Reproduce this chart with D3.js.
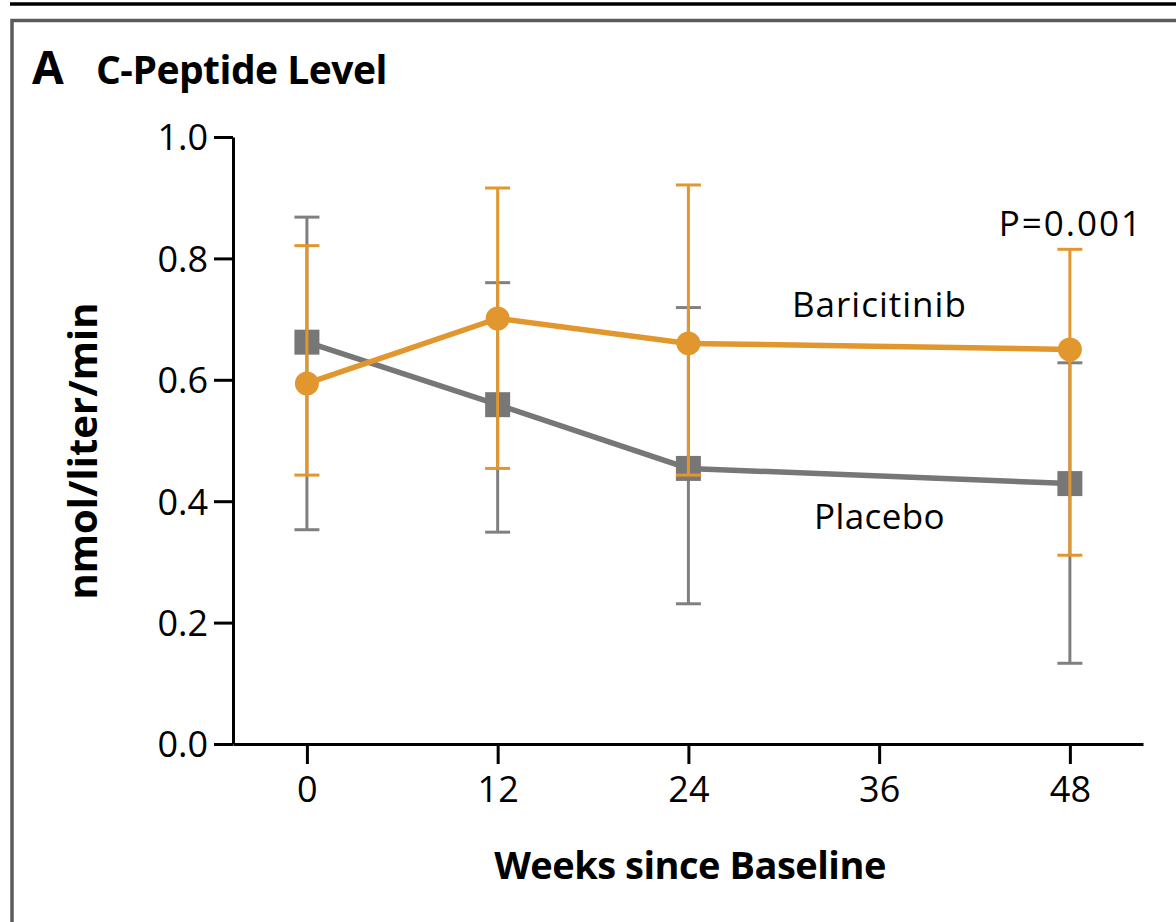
<!DOCTYPE html>
<html>
<head>
<meta charset="utf-8">
<script src="https://cdn.jsdelivr.net/npm/d3@7"></script>
<style>
  body { margin: 0; background: #fff; }
  svg { display: block; font-family: 'Open Sans', sans-serif; }
</style>
</head>
<body>
<svg id="chart" width="1176" height="922"></svg>
<script>
// weeks since baseline
let weeks = [0, 12, 24, 48]
let tickWeeks = [0, 12, 24, 36, 48]
let yTicks = [0, 0.2, 0.4, 0.6, 0.8, 1.0]

// c-peptide, nmol/liter/min
let baricitinib = [0.594, 0.701, 0.660, 0.650]
let baricitinibLow = [0.443, 0.454, 0.443, 0.311]
let baricitinibHigh = [0.821, 0.916, 0.921, 0.815]

let placebo = [0.662, 0.559, 0.454, 0.429]
let placeboLow = [0.353, 0.349, 0.231, 0.133]
let placeboHigh = [0.868, 0.760, 0.719, 0.628]

let orange = '#e2962e'
let gray = '#777777'
let grayBar = '#808080'

let svg = d3.select('#chart')

// frame
svg.append('line')
    .attr('x1', 10).attr('x2', 1176).attr('y1', 4).attr('y2', 4)
    .attr('stroke', '#000').attr('stroke-width', 3.5)
svg.append('rect')
    .attr('x', 12).attr('y', 20.5).attr('width', 1200).attr('height', 960)
    .attr('fill', 'none').attr('stroke', '#5b5b5b').attr('stroke-width', 3.5)

// title
svg.append('text').attr('x', 32).attr('y', 84)
    .style('font-weight', 700).style('font-size', '46px').text('A')
svg.append('text').attr('x', 96).attr('y', 84)
    .style('font-weight', 700).style('font-size', '39px').style('letter-spacing', '-0.5px')
    .text('C-Peptide Level')

let x = d3.scaleLinear().domain([-4.65, 52.6]).range([233, 1143])
let y = d3.scaleLinear().domain([0, 1]).range([744, 137])

// axes
let xAxis = svg.append('g')
    .attr('transform', 'translate(0,' + y(0) + ')')
    .call(d3.axisBottom(x).tickValues(tickWeeks).tickSize(20).tickSizeOuter(0).tickPadding(12))
let yAxis = svg.append('g')
    .attr('transform', 'translate(' + x(-4.65) + ',0)')
    .call(d3.axisLeft(y).tickValues(yTicks).tickFormat(d3.format('.1f')).tickSize(19).tickSizeOuter(0).tickPadding(6))

svg.selectAll('.domain, .tick line').attr('stroke', '#000').attr('stroke-width', 3)
xAxis.selectAll('text').style('font-size', '36px').style('font-family', 'Open Sans').attr('fill', '#000')
yAxis.selectAll('text').style('font-size', '36px').style('font-family', 'Open Sans').attr('fill', '#000')
    .attr('dy', '0.36em')

// axis titles
svg.append('text')
    .attr('transform', 'translate(97,451) rotate(-90)')
    .attr('text-anchor', 'middle')
    .style('font-weight', 700).style('font-size', '40px')
    .text('nmol/liter/min')
svg.append('text')
    .attr('x', 690).attr('y', 879)
    .attr('text-anchor', 'middle')
    .style('font-weight', 700).style('font-size', '38px').style('letter-spacing', '-0.5px')
    .text('Weeks since Baseline')

// error bars, a vertical line with two caps
let drawBars = (low, high, color) => {
    let g = svg.append('g').attr('stroke', color).attr('stroke-width', 3)
    weeks.forEach((w, i) => {
        g.append('line').attr('x1', x(w)).attr('x2', x(w)).attr('y1', y(low[i])).attr('y2', y(high[i]))
        g.append('line').attr('x1', x(w) - 12.5).attr('x2', x(w) + 12.5).attr('y1', y(low[i])).attr('y2', y(low[i]))
        g.append('line').attr('x1', x(w) - 12.5).attr('x2', x(w) + 12.5).attr('y1', y(high[i])).attr('y2', y(high[i]))
    })
}

let line = d3.line()
    .x((d, i) => x(weeks[i]))
    .y(d => y(d))

// placebo first, under baricitinib
drawBars(placeboLow, placeboHigh, grayBar)
svg.append('path').datum(placebo)
    .attr('d', line).attr('fill', 'none').attr('stroke', gray).attr('stroke-width', 5.5)
svg.selectAll('.sq').data(placebo).enter().append('rect')
    .attr('x', (d, i) => x(weeks[i]) - 12.5)
    .attr('y', d => y(d) - 12.5)
    .attr('width', 25).attr('height', 25)
    .attr('fill', gray)

drawBars(baricitinibLow, baricitinibHigh, orange)
svg.append('path').datum(baricitinib)
    .attr('d', line).attr('fill', 'none').attr('stroke', orange).attr('stroke-width', 5.5)
svg.selectAll('.dot').data(baricitinib).enter().append('circle')
    .attr('cx', (d, i) => x(weeks[i]))
    .attr('cy', d => y(d))
    .attr('r', 12)
    .attr('fill', orange)

// series labels
svg.append('text').attr('x', 792).attr('y', 317)
    .style('font-size', '35px').style('letter-spacing', '1px').text('Baricitinib')
svg.append('text').attr('x', 814).attr('y', 529)
    .style('font-size', '35px').style('letter-spacing', '0.4px').text('Placebo')
svg.append('text').attr('x', 1143).attr('y', 236).attr('text-anchor', 'end')
    .style('font-size', '35px').style('letter-spacing', '2px').text('P=0.001')
</script>
</body>
</html>
